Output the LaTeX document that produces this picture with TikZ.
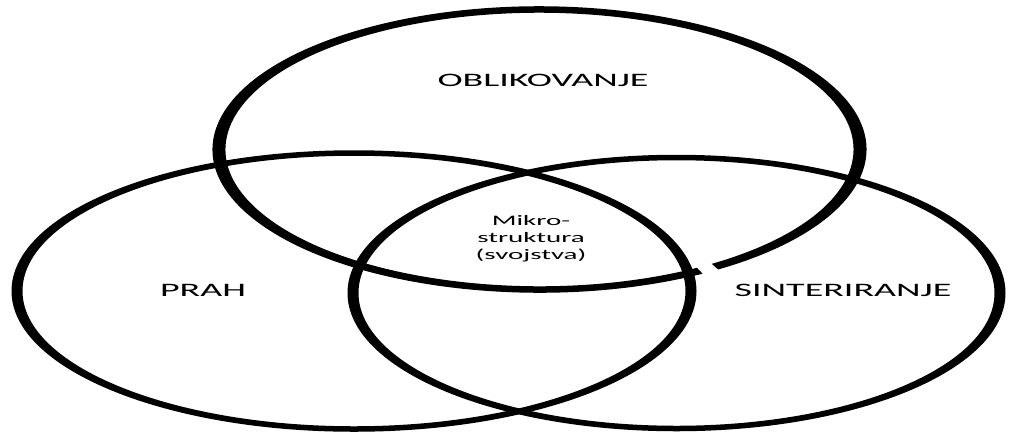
\documentclass[tikz,border=0pt]{standalone}
\usepackage{fontspec}
\setmainfont{Carlito}
\begin{document}
\begin{tikzpicture}[x=1pt,y=-1pt,
	venn/.style={draw=black,line width=5.5pt},
	biglabel/.style={font=\fontsize{19}{23}\selectfont,anchor=base,inner sep=0pt}]
	\useasboundingbox (0,0) rectangle (1009,432);
	\begin{scope}[x=0.5pt,transform canvas={xscale=2}]
	% three sets
	\draw[venn,line width=6.5pt] (539.5,149.5) ++(60:320.5 and 140) arc[start angle=60,end angle=416.8,x radius=320.5,y radius=140];
	\draw[venn] (354,291) ellipse [x radius=337,y radius=138];
	\draw[venn] (676.5,293) ellipse [x radius=323.5,y radius=135.5];
	% labels
	\node[biglabel] (oblikovanje) at (543,86) {OBLIKOVANJE};
	\node[biglabel] (prah) at (203,296.5) {PRAH};
	\node[biglabel] (sinteriranje) at (843,296.5) {SINTERIRANJE};
	\node[font=\fontsize{14.5}{17}\selectfont,align=center,inner sep=0pt] (mikro) at (531,239) {Mikro-\\struktura\\(svojstva)};
	\end{scope}
\end{tikzpicture}
\end{document}
